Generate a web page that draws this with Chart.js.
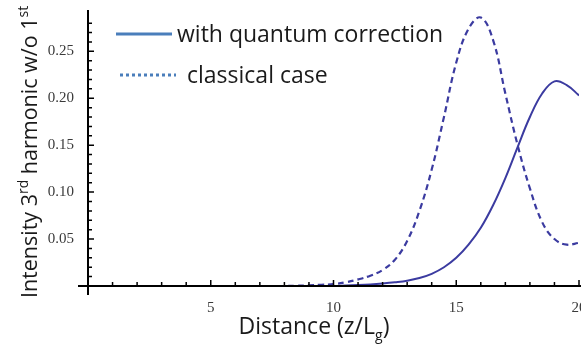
<!DOCTYPE html>
<html>
<head>
<meta charset="utf-8">
<script src="https://cdn.jsdelivr.net/npm/chart.js@4"></script>
<style>
    html, body { margin: 0; padding: 0; background: #ffffff; }
    #wrap { width: 581px; height: 349px; }
</style>
</head>
<body>
<div id="wrap"><canvas id="grafico"></canvas></div>
<script>
// Distância z/Lg e intensidade do 3º harmônico
const distancia = [0, 1, 2, 3, 4, 5, 6, 7, 8, 8.5, 9, 9.5, 10, 10.5, 11, 11.5, 12, 12.5, 13, 13.5,
    14, 14.5, 15, 15.5, 16, 16.5, 17, 17.5, 18, 18.5, 19, 19.5, 20];
const quantico = [0, 0, 0, 0, 0, 0, 0, 0, 0, 0, 0, 0, 0, 0.0005, 0.001, 0.0017, 0.0027, 0.004, 0.0057, 0.0085,
    0.013, 0.020, 0.030, 0.044, 0.062, 0.086, 0.115, 0.148, 0.180, 0.205, 0.218, 0.214, 0.203];
const classico = [0, 0, 0, 0, 0, 0, 0, 0, 0, 0.0003, 0.0007, 0.0013, 0.002, 0.004, 0.007, 0.011, 0.017, 0.028, 0.048, 0.080,
    0.124, 0.180, 0.238, 0.274, 0.286, 0.262, 0.205, 0.150, 0.104, 0.068, 0.050, 0.044, 0.046];

const rotulosX = [5, 10, 15, 20];
const rotulosY = [0.05, 0.10, 0.15, 0.20, 0.25];

const legendas = ["with quantum correction", "classical case"];

const corCurva = '#3b3ba0';
const corLegenda = '#4a7ebb';
const fonteTexto = '"Open Sans", "Noto Sans", sans-serif';

function pontos(valores) {
    return distancia.map((x, i) => ({ x: x, y: valores[i] }));
}

function ehRotulo(v, lista) {
    return lista.some(t => Math.abs(v - t) < 1e-6);
}

// desenha eixos cruzados, ticks internos, títulos e legenda
const eixosPlugin = {
    id: 'eixos',
    afterDatasetsDraw(chart) {
        const ctx = chart.ctx;
        const xs = chart.scales.x;
        const ys = chart.scales.y;
        const x0 = xs.getPixelForValue(0);
        const y0 = ys.getPixelForValue(0);

        ctx.save();
        ctx.strokeStyle = '#000';
        ctx.lineWidth = 2;
        ctx.beginPath();
        ctx.moveTo(x0 - 10, y0);
        ctx.lineTo(chart.width, y0);
        ctx.moveTo(x0, y0 + 9);
        ctx.lineTo(x0, ys.getPixelForValue(ys.max));
        ctx.stroke();

        // ticks internos
        ctx.lineWidth = 1.5;
        ctx.beginPath();
        xs.ticks.forEach(t => {
            if (t.value <= 0 || Math.abs(t.value - Math.round(t.value)) > 1e-6) return;
            const px = xs.getPixelForValue(t.value);
            const len = ehRotulo(t.value, rotulosX) ? 6 : 4;
            ctx.moveTo(px, y0);
            ctx.lineTo(px, y0 - len);
        });
        ys.ticks.forEach(t => {
            const k = t.value * 100;
            if (t.value <= 0 || Math.abs(k - Math.round(k)) > 1e-6) return;
            const py = ys.getPixelForValue(t.value);
            const len = ehRotulo(t.value, rotulosY) ? 6 : 4;
            ctx.moveTo(x0, py);
            ctx.lineTo(x0 + len, py);
        });
        ctx.stroke();

        // título do eixo y com sobrescritos
        ctx.fillStyle = '#1a1a1a';
        const partes = [
            ['Intensity 3', false], ['rd', true], [' harmonic w/o 1', false], ['st', true]
        ];
        const fY = '21.5px ' + fonteTexto;
        const fS = '14px ' + fonteTexto;
        let total = 0;
        partes.forEach(p => { ctx.font = p[1] ? fS : fY; total += ctx.measureText(p[0]).width; });
        ctx.translate(37, 152);
        ctx.rotate(-Math.PI / 2);
        ctx.textBaseline = 'alphabetic';
        let pos = -total / 2;
        partes.forEach(p => {
            ctx.font = p[1] ? fS : fY;
            ctx.fillText(p[0], pos, p[1] ? -9 : 0);
            pos += ctx.measureText(p[0]).width;
        });
        ctx.setTransform(1, 0, 0, 1, 0, 0);

        // título do eixo x com subscrito
        const fN = '23px ' + fonteTexto;
        const partesX = [['Distance (z/L', false], ['g', true], [')', false]];
        let totalX = 0;
        partesX.forEach(p => { ctx.font = p[1] ? fS : fN; totalX += ctx.measureText(p[0]).width; });
        let px = 314 - totalX / 2;
        partesX.forEach(p => {
            ctx.font = p[1] ? fS : fN;
            ctx.fillText(p[0], px, p[1] ? 340 : 334);
            px += ctx.measureText(p[0]).width;
        });

        // legenda
        ctx.font = fN;
        ctx.textBaseline = 'middle';
        ctx.strokeStyle = corLegenda;
        ctx.lineWidth = 3;
        ctx.beginPath();
        ctx.moveTo(116, 34);
        ctx.lineTo(172, 34);
        ctx.stroke();
        ctx.fillText(legendas[0], 177, 35);
        ctx.setLineDash([3, 3]);
        ctx.beginPath();
        ctx.moveTo(120, 75);
        ctx.lineTo(176, 75);
        ctx.stroke();
        ctx.setLineDash([]);
        ctx.fillText(legendas[1], 187, 76);
        ctx.restore();
    }
};

new Chart(document.getElementById('grafico'), {
    type: 'line',
    data: {
        datasets: [
            {
                label: legendas[0],
                data: pontos(quantico),
                borderColor: corCurva,
                borderWidth: 2,
                pointRadius: 0,
                tension: 0.4,
                fill: false
            },
            {
                label: legendas[1],
                data: pontos(classico),
                borderColor: corCurva,
                borderWidth: 2.2,
                borderDash: [6, 4],
                pointRadius: 0,
                tension: 0.4,
                fill: false
            }
        ]
    },
    options: {
        responsive: true,
        maintainAspectRatio: false,
        animation: false,
        layout: { padding: { top: 10, right: 2, left: 0, bottom: 0 } },
        plugins: {
            legend: { display: false },
            tooltip: { enabled: false }
        },
        scales: {
            x: {
                type: 'linear',
                min: 0,
                max: 20,
                grid: { display: false },
                border: { display: false },
                ticks: {
                    stepSize: 1,
                    autoSkip: false,
                    maxRotation: 0,
                    padding: 5,
                    color: '#3a3a3a',
                    font: { family: '"Liberation Serif", serif', size: 15 },
                    callback: v => ehRotulo(v, rotulosX) ? String(v) : ''
                },
                afterFit: s => { s.height = 63; s.paddingLeft = 0; s.paddingRight = 0; }
            },
            y: {
                min: 0,
                max: 0.294,
                grid: { display: false },
                border: { display: false },
                ticks: {
                    stepSize: 0.01,
                    autoSkip: false,
                    padding: 6,
                    color: '#3a3a3a',
                    font: { family: '"Liberation Serif", serif', size: 15 },
                    callback: v => ehRotulo(v, rotulosY) ? v.toFixed(2) : ''
                },
                afterFit: s => { s.width = 88; s.paddingTop = 0; s.paddingBottom = 0; }
            }
        }
    },
    plugins: [eixosPlugin]
});
</script>
</body>
</html>
